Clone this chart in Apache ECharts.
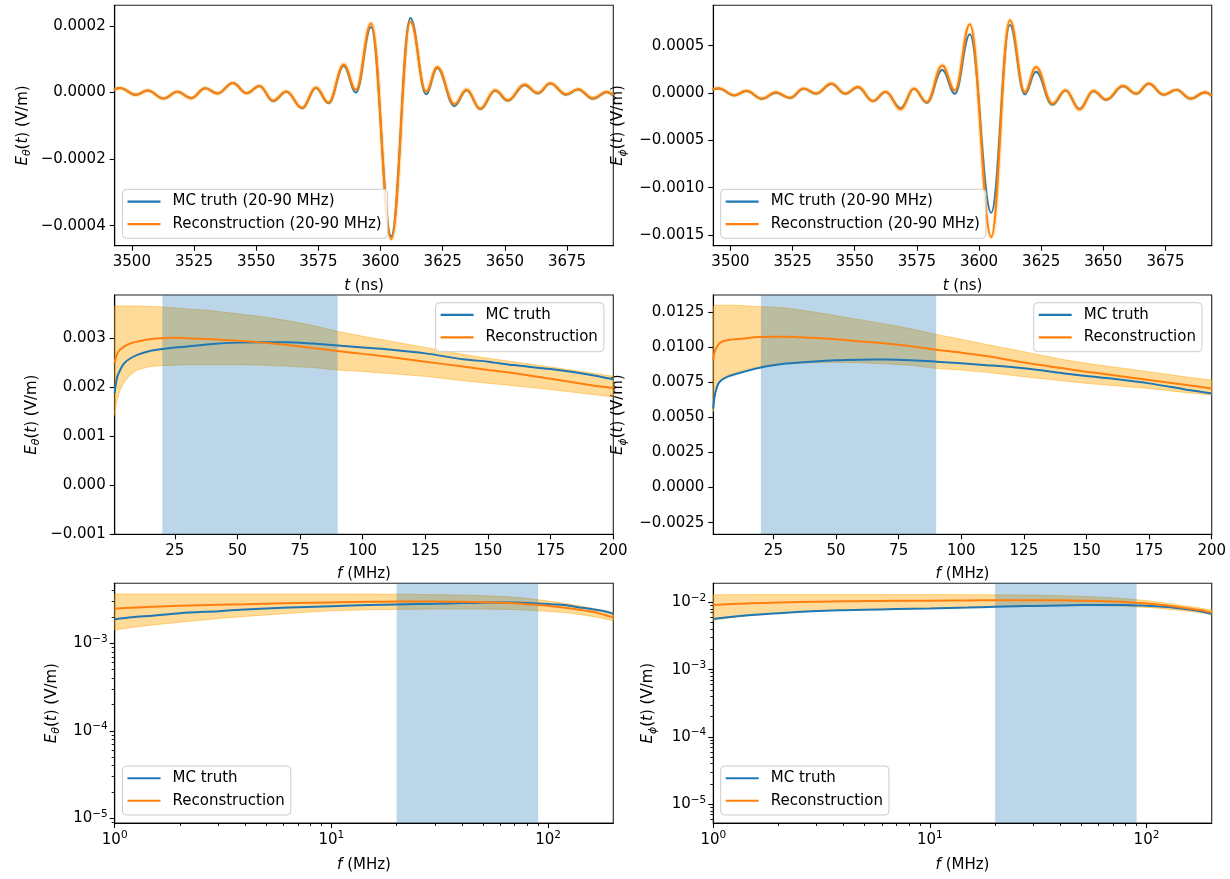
<!DOCTYPE html>
<html>
<head>
<meta charset="utf-8">
<script src="https://cdn.jsdelivr.net/npm/echarts@6/dist/echarts.min.js"></script>
<style>
html, body { margin: 0; padding: 0; background: #fff; }
#chart { width: 1230px; height: 879px; }
</style>
</head>
<body>
<div id="chart"></div>
<script>
// ---- time domain (20-90 MHz filtered), extrema ----
const T_THETA = [3492.8, 3495.2, 3501.6, 3506.4, 3512.7, 3518.3, 3523.9, 3529.5, 3534.5, 3540.6, 3546.2, 3551.3, 3556.8, 3562.1, 3568.5, 3574.0, 3579.1, 3585.2, 3590.1, 3596.2, 3604.3, 3612.0, 3618.3, 3622.8, 3629.7, 3634.6, 3640.1, 3646.1, 3651.2, 3657.9, 3663.2, 3668.3, 3674.6, 3679.4, 3685.5, 3691.0, 3693.6];
const ETH_TRUE = [8e-6, 14e-6, -7e-6, 6e-6, -18e-6, 2e-6, -17e-6, 13e-6, -3e-6, 29e-6, -2e-6, 20e-6, -26e-6, 2e-6, -47e-6, 14e-6, -32e-6, 80e-6, 0, 197e-6, -432e-6, 224e-6, -5e-6, 74e-6, -41e-6, 7e-6, -50e-6, 5e-6, -25e-6, 22e-6, -3e-6, 27e-6, -7e-6, 9e-6, -19e-6, 1e-6, -9e-6];
const ETH_RECO = [8e-6, 14e-6, -7e-6, 6e-6, -18e-6, 2e-6, -17e-6, 13e-6, -3e-6, 29e-6, -2e-6, 20e-6, -24e-6, 3e-6, -46e-6, 15e-6, -30e-6, 84e-6, 8e-6, 207e-6, -440e-6, 213e-6, 3e-6, 77e-6, -35e-6, 9e-6, -48e-6, 7e-6, -23e-6, 24e-6, -1e-6, 28e-6, -5e-6, 10e-6, -17e-6, 2e-6, -8e-6];

const T_PHI = [3492.8, 3495.2, 3501.6, 3506.4, 3512.7, 3518.3, 3523.9, 3529.5, 3534.5, 3540.6, 3546.2, 3551.3, 3557.3, 3562.4, 3568.5, 3573.8, 3579.0, 3585.2, 3590.3, 3596.3, 3604.9, 3612.4, 3618.4, 3622.9, 3629.5, 3634.8, 3640.4, 3646.0, 3651.2, 3657.9, 3663.2, 3668.3, 3674.3, 3679.4, 3685.1, 3691.0, 3693.6];
const EPH_TRUE = [35e-6, 48e-6, -25e-6, 21e-6, -62e-6, 4e-6, -53e-6, 44e-6, -8e-6, 95e-6, -8e-6, 62e-6, -88e-6, 10e-6, -158e-6, 44e-6, -104e-6, 243e-6, -7e-6, 620e-6, -1265e-6, 718e-6, -14e-6, 224e-6, -125e-6, 26e-6, -165e-6, 20e-6, -72e-6, 72e-6, -8e-6, 97e-6, -19e-6, 34e-6, -60e-6, 6e-6, -32e-6];
const EPH_RECO = [36e-6, 50e-6, -23e-6, 23e-6, -58e-6, 7e-6, -50e-6, 48e-6, -5e-6, 100e-6, -5e-6, 66e-6, -84e-6, 14e-6, -172e-6, 48e-6, -96e-6, 290e-6, 28e-6, 726e-6, -1520e-6, 768e-6, 10e-6, 275e-6, -112e-6, 30e-6, -175e-6, 23e-6, -68e-6, 76e-6, -6e-6, 100e-6, -17e-6, 36e-6, -58e-6, 8e-6, -30e-6];

// ---- frequency domain ----
const FREQ = [1, 1.2, 1.5, 2, 3, 4, 5, 7, 10, 15, 20, 25, 30, 40, 50, 60, 70, 80, 90, 100, 110, 125, 140, 150, 160, 175, 190, 200];
const FTH_TRUE = [0.00188, 0.00198, 0.00207, 0.00221, 0.00233, 0.00243, 0.0025, 0.00258, 0.00266, 0.00274, 0.00278, 0.00281, 0.00283, 0.00288, 0.00291, 0.00292, 0.00292, 0.00289, 0.00285, 0.00281, 0.00277, 0.00269, 0.00257, 0.00252, 0.00245, 0.00237, 0.00226, 0.00216];
const FTH_RECO = [0.00249, 0.00255, 0.00261, 0.00268, 0.00276, 0.0028, 0.00284, 0.00289, 0.00293, 0.00298, 0.003, 0.00301, 0.003, 0.00298, 0.00295, 0.00291, 0.00286, 0.0028, 0.00274, 0.00268, 0.00262, 0.00252, 0.00242, 0.00235, 0.00229, 0.00217, 0.00205, 0.00198];
const FTH_HI = [0.00366, 0.00366, 0.00366, 0.00366, 0.00366, 0.00366, 0.00366, 0.00366, 0.00366, 0.00365, 0.00364, 0.00362, 0.0036, 0.00356, 0.0035, 0.00344, 0.00336, 0.00326, 0.00314, 0.00304, 0.00295, 0.00281, 0.00267, 0.00259, 0.00252, 0.00241, 0.0023, 0.00222];
const FTH_LO = [0.00142, 0.00152, 0.00162, 0.00174, 0.00192, 0.00203, 0.00211, 0.00224, 0.00235, 0.00242, 0.00244, 0.00245, 0.00246, 0.00246, 0.00246, 0.00245, 0.00243, 0.0024, 0.00235, 0.00232, 0.00228, 0.00222, 0.00213, 0.00208, 0.00203, 0.00195, 0.00186, 0.0018];

const FPH_TRUE = [0.00564, 0.00605, 0.00645, 0.0069, 0.0074, 0.00762, 0.00775, 0.00793, 0.0081, 0.00835, 0.00856, 0.00872, 0.00884, 0.00898, 0.00908, 0.00912, 0.00913, 0.00908, 0.00898, 0.00886, 0.00873, 0.0085, 0.00817, 0.00795, 0.00777, 0.00743, 0.00698, 0.00671];
const FPH_RECO = [0.0091, 0.0094, 0.00965, 0.0099, 0.0102, 0.01035, 0.01043, 0.01052, 0.01058, 0.01067, 0.01073, 0.01076, 0.01076, 0.01068, 0.01057, 0.01042, 0.01027, 0.01008, 0.00982, 0.00962, 0.00938, 0.00892, 0.00852, 0.00826, 0.00803, 0.00767, 0.00731, 0.00707];
const FPH_HI = [0.0129, 0.01295, 0.013, 0.013, 0.013, 0.013, 0.013, 0.013, 0.013, 0.01295, 0.0129, 0.01286, 0.0128, 0.01255, 0.01225, 0.01195, 0.01165, 0.01132, 0.01092, 0.01057, 0.0102, 0.00969, 0.00915, 0.00886, 0.00862, 0.00826, 0.00788, 0.00767];
const FPH_LO = [0.0054, 0.0059, 0.0064, 0.0069, 0.0074, 0.00765, 0.0078, 0.00803, 0.0082, 0.00848, 0.00866, 0.00878, 0.00885, 0.0089, 0.00893, 0.0089, 0.00882, 0.00872, 0.0085, 0.00838, 0.00822, 0.0079, 0.00762, 0.00743, 0.00728, 0.00707, 0.00677, 0.0066];

const BAND_MHZ = [20, 90];

// ---- ticks ----
const T_TICKS = [3500, 3525, 3550, 3575, 3600, 3625, 3650, 3675];
const F_TICKS = [25, 50, 75, 100, 125, 150, 175, 200];
const TH_T_YTICKS = [-0.0004, -0.0002, 0, 0.0002];
const PH_T_YTICKS = [-0.0015, -0.001, -0.0005, 0, 0.0005];
const TH_F_YTICKS = [-0.001, 0, 0.001, 0.002, 0.003];
const PH_F_YTICKS = [-0.0025, 0, 0.0025, 0.005, 0.0075, 0.01, 0.0125];
const LOGX_TICKS = [1, 10, 100];
const LOGX_MINOR = [2, 3, 4, 5, 6, 7, 8, 9, 20, 30, 40, 50, 60, 70, 80, 90];
const TH_LOGY_TICKS = [1e-5, 1e-4, 1e-3];
const TH_LOGY_MINOR = [9e-6, 2e-5, 3e-5, 4e-5, 5e-5, 6e-5, 7e-5, 8e-5, 9e-5, 2e-4, 3e-4, 4e-4, 5e-4, 6e-4, 7e-4, 8e-4, 9e-4, 2e-3, 3e-3, 4e-3];
const PH_LOGY_TICKS = [1e-5, 1e-4, 1e-3, 1e-2];
const PH_LOGY_MINOR = [6e-6, 7e-6, 8e-6, 9e-6, 2e-5, 3e-5, 4e-5, 5e-5, 6e-5, 7e-5, 8e-5, 9e-5, 2e-4, 3e-4, 4e-4, 5e-4, 6e-4, 7e-4, 8e-4, 9e-4, 2e-3, 3e-3, 4e-3, 5e-3, 6e-3, 7e-3, 8e-3, 9e-3];

const FONT = 'DejaVu Sans';
const BLUE = '#1f77b4';
const ORANGE = '#ff7f0e';
const FS = 15;

const zip = (xs, ys) => xs.map((x, i) => [x, ys[i]]);
const fixed = d => v => v.toFixed(d).replace('-', '\u2212');
const pow10 = v => '{b|10}{p|' + String(Math.round(Math.log10(v))).replace('-', '\u2212') + '}';

const nameStyle = {
    fontSize: FS, fontFamily: FONT, color: '#000', lineHeight: 20,
    rich: {
        i: {fontSize: FS, fontFamily: FONT, fontStyle: 'italic', color: '#000', lineHeight: 20},
        s: {fontSize: 11, fontFamily: FONT, fontStyle: 'italic', color: '#000', lineHeight: 11, verticalAlign: 'bottom'}
    }
};
const labelRich = {
    b: {fontSize: FS, fontFamily: FONT, color: '#000', lineHeight: 20},
    p: {fontSize: 10.5, fontFamily: FONT, color: '#000', lineHeight: 10.5, verticalAlign: 'top'}
};

function axis(dim, grid, type, min, max, ticks, fmt, name, gap) {
    return {
        type: type, gridIndex: grid, min: min, max: max,
        position: dim === 'x' ? 'bottom' : 'left',
        name: name, nameLocation: 'middle', nameGap: gap,
        nameRotate: dim === 'x' ? 0 : 90,
        nameTextStyle: nameStyle,
        axisLine: {show: true, onZero: false, lineStyle: {color: '#000', width: 1.1}},
        axisTick: {show: true, length: 5, customValues: ticks, lineStyle: {color: '#000', width: 1.1}},
        axisLabel: {customValues: ticks, formatter: fmt, color: '#000', fontSize: FS, fontFamily: FONT,
            margin: type === 'log' ? 7 : 9, rich: labelRich},
        splitLine: {show: false}
    };
}

function minorAxis(dim, grid, min, max, ticks) {
    return {
        type: 'log', gridIndex: grid, min: min, max: max,
        position: dim === 'x' ? 'bottom' : 'left',
        axisLine: {show: false},
        axisLabel: {show: false},
        axisTick: {show: true, length: 3, customValues: ticks, lineStyle: {color: '#000', width: 0.9}},
        splitLine: {show: false}
    };
}

function legendAt(left, top, names) {
    return {
        show: true, orient: 'vertical', left: left, top: top,
        data: names, icon: 'rect', itemWidth: 33, itemHeight: 2.2, itemGap: 6,
        padding: [4, 6, 6, 5],
        backgroundColor: 'rgba(255,255,255,0.8)', borderColor: '#cccccc', borderWidth: 1, borderRadius: 4,
        selectedMode: false,
        textStyle: {fontSize: FS, fontFamily: FONT, color: '#000', lineHeight: 16.5, padding: [0, 0, 0, 7]},
        z: 20
    };
}

function line(idx, name, xs, ys, color, opts) {
    return Object.assign({
        type: 'line', name: name, xAxisIndex: idx, yAxisIndex: idx,
        data: zip(xs, ys), showSymbol: false, symbol: 'none',
        lineStyle: {color: color, width: 2}, itemStyle: {color: color},
        z: 3, silent: true, animation: false
    }, opts || {});
}

function band(idx, xs, hi, lo) {
    return {
        type: 'custom', xAxisIndex: idx, yAxisIndex: idx, z: 1, silent: true, animation: false,
        data: [[xs[0], lo[0]]],
        renderItem: (params, api) => {
            const pts = [];
            for (let i = 0; i < xs.length; i++) pts.push(api.coord([xs[i], hi[i]]));
            for (let i = xs.length - 1; i >= 0; i--) pts.push(api.coord([xs[i], lo[i]]));
            return {type: 'polygon', shape: {points: pts},
                style: {fill: 'rgba(255,165,0,0.4)', stroke: 'rgba(255,165,0,0.45)', lineWidth: 1}};
        }
    };
}

function span(idx) {
    return {
        type: 'custom', xAxisIndex: idx, yAxisIndex: idx, z: 2, silent: true, animation: false,
        data: [[BAND_MHZ[0], 0.001]],
        renderItem: (params, api) => {
            const cs = params.coordSys;
            const x0 = api.coord([BAND_MHZ[0], api.value(1)])[0];
            const x1 = api.coord([BAND_MHZ[1], api.value(1)])[0];
            return {type: 'rect', shape: {x: x0, y: cs.y, width: x1 - x0, height: cs.height},
                style: {fill: 'rgba(31,119,180,0.3)'}};
        }
    };
}

const chart = echarts.init(document.getElementById('chart'), null, {renderer: 'canvas'});

const gridBase = {show: true, borderColor: '#222', borderWidth: 1.1, backgroundColor: 'transparent'};
const TRUE_B = 'MC truth (20-90 MHz)';
const RECO_B = 'Reconstruction (20-90 MHz)';
const TRUE = 'MC truth';
const RECO = 'Reconstruction';

const yTh = '{i|E}{s|\u03b8}({i|t}) (V/m)';
const yPh = '{i|E}{s|\u03d5}({i|t}) (V/m)';
const xT = '{i|t} (ns)';
const xF = '{i|f} (MHz)';

const option = {
    backgroundColor: '#fff',
    animation: false,
    grid: [
        Object.assign({left: 114.7, top: 5.3, width: 498.6, height: 240.4}, gridBase),
        Object.assign({left: 713.3, top: 5.3, width: 498.4, height: 240.4}, gridBase),
        Object.assign({left: 114.7, top: 295, width: 498.6, height: 239.3}, gridBase),
        Object.assign({left: 713.3, top: 295, width: 498.4, height: 239.3}, gridBase),
        Object.assign({left: 114.7, top: 583.3, width: 498.6, height: 239.7}, gridBase),
        Object.assign({left: 713.3, top: 583.3, width: 498.4, height: 239.7}, gridBase)
    ],
    xAxis: [
        axis('x', 0, 'value', 3493.1, 3693.6, T_TICKS, v => String(v), xT, 30),
        axis('x', 1, 'value', 3493.1, 3693.6, T_TICKS, v => String(v), xT, 30),
        axis('x', 2, 'value', 1, 200, F_TICKS, v => String(v), xF, 30),
        axis('x', 3, 'value', 1, 200, F_TICKS, v => String(v), xF, 30),
        axis('x', 4, 'log', 1, 200, LOGX_TICKS, pow10, xF, 32),
        axis('x', 5, 'log', 1, 200, LOGX_TICKS, pow10, xF, 32),
        minorAxis('x', 4, 1, 200, LOGX_MINOR),
        minorAxis('x', 5, 1, 200, LOGX_MINOR)
    ],
    yAxis: [
        axis('y', 0, 'value', -0.00046, 0.000262, TH_T_YTICKS, fixed(4), yTh, 82),
        axis('y', 1, 'value', -0.001613, 0.000927, PH_T_YTICKS, fixed(4), yPh, 85),
        axis('y', 2, 'value', -0.00101, 0.003884, TH_F_YTICKS, fixed(3), yTh, 73),
        axis('y', 3, 'value', -0.00333, 0.01373, PH_F_YTICKS, fixed(4), yPh, 85),
        axis('y', 4, 'log', 8.84e-6, 0.00485, TH_LOGY_TICKS, pow10, yTh, 53),
        axis('y', 5, 'log', 5.27e-6, 0.01914, PH_LOGY_TICKS, pow10, yPh, 55),
        minorAxis('y', 4, 8.84e-6, 0.00485, TH_LOGY_MINOR),
        minorAxis('y', 5, 5.27e-6, 0.01914, PH_LOGY_MINOR)
    ],
    legend: [
        legendAt(122.5, 189.3, [TRUE_B, RECO_B]),
        legendAt(720.7, 189.3, [TRUE_B, RECO_B]),
        legendAt(435.6, 302.7, [TRUE, RECO]),
        legendAt(1033.7, 302.7, [TRUE, RECO]),
        legendAt(122.5, 766, [TRUE, RECO]),
        legendAt(720.7, 766, [TRUE, RECO])
    ],
    series: [
        // top row
        line(0, TRUE_B, T_THETA, ETH_TRUE, BLUE, {smooth: 0.4, smoothMonotone: 'x'}),
        line(0, 'halo0', T_THETA, ETH_RECO, 'rgba(255,165,0,0.3)', {smooth: 0.4, smoothMonotone: 'x', lineStyle: {color: 'rgba(255,165,0,0.3)', width: 4.5}}),
        line(0, RECO_B, T_THETA, ETH_RECO, ORANGE, {smooth: 0.4, smoothMonotone: 'x'}),
        line(1, TRUE_B, T_PHI, EPH_TRUE, BLUE, {smooth: 0.4, smoothMonotone: 'x'}),
        line(1, 'halo1', T_PHI, EPH_RECO, 'rgba(255,165,0,0.3)', {smooth: 0.4, smoothMonotone: 'x', lineStyle: {color: 'rgba(255,165,0,0.3)', width: 4.5}}),
        line(1, RECO_B, T_PHI, EPH_RECO, ORANGE, {smooth: 0.4, smoothMonotone: 'x'}),
        // middle row
        band(2, FREQ, FTH_HI, FTH_LO), span(2),
        line(2, TRUE, FREQ, FTH_TRUE, BLUE, {smooth: 0.3}),
        line(2, RECO, FREQ, FTH_RECO, ORANGE, {smooth: 0.3}),
        band(3, FREQ, FPH_HI, FPH_LO), span(3),
        line(3, TRUE, FREQ, FPH_TRUE, BLUE, {smooth: 0.3}),
        line(3, RECO, FREQ, FPH_RECO, ORANGE, {smooth: 0.3}),
        // bottom row
        band(4, FREQ, FTH_HI, FTH_LO), span(4),
        line(4, TRUE, FREQ, FTH_TRUE, BLUE, {smooth: 0.3}),
        line(4, RECO, FREQ, FTH_RECO, ORANGE, {smooth: 0.3}),
        band(5, FREQ, FPH_HI, FPH_LO), span(5),
        line(5, TRUE, FREQ, FPH_TRUE, BLUE, {smooth: 0.3}),
        line(5, RECO, FREQ, FPH_RECO, ORANGE, {smooth: 0.3})
    ]
};

chart.setOption(option);
</script>
</body>
</html>
